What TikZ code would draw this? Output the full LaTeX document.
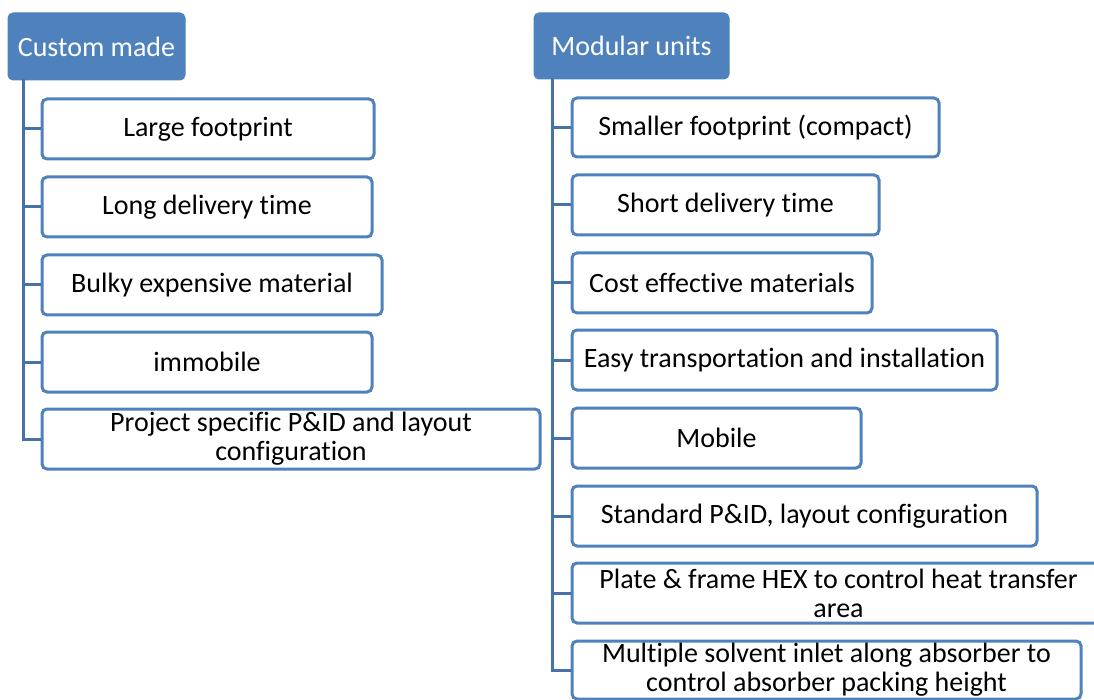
\documentclass[tikz,border=0pt]{standalone}
\usepackage{fontspec}
\setmainfont[Ligatures=NoCommon]{Carlito}
\definecolor{hdr}{HTML}{4F81BD}
\definecolor{bord}{HTML}{4F81BD}
\definecolor{conn}{HTML}{4672A8}
\begin{document}
\begin{tikzpicture}[x=1pt,y=-1pt,
  base/.style={rounded corners=5pt,inner sep=0pt,align=center,
    font=\fontsize{28}{29}\selectfont},
  header/.style={base,fill=hdr,draw=hdr,line width=1pt,text=white},
  item/.style={base,fill=white,draw=bord,line width=3pt,text=black},
  link/.style={draw=conn,line width=3pt}]
\useasboundingbox (0,0) rectangle (1094,700);
\newcommand{\mybox}[7]{%
  \node[#1,minimum width={(#5-#3)*1pt},minimum height={(#6-#4)*1pt}] (#2)
    at ({(#3+#5)/2},{(#4+#6)/2+1}) {#7};}
\mybox{header}{lh}{8}{12}{185}{79}{Custom made}
\mybox{header}{rh}{534}{12}{729}{78}{Modular units}
\mybox{item}{l1}{42}{98}{374}{158}{Large footprint}
\mybox{item}{l2}{42}{176}{372}{236}{Long delivery time}
\mybox{item}{l3}{42}{254}{382}{314}{Bulky expensive material}
\mybox{item}{l4}{42}{331}{372}{391}{immobile}
\mybox{item}{l5}{42}{408}{540}{468}{Project specific P\&ID and layout\\configuration}
\mybox{item}{r1}{572}{97}{939}{156}{Smaller footprint (compact)}
\mybox{item}{r2}{572}{174}{879}{234}{Short delivery time}
\mybox{item}{r3}{572}{252}{872}{312}{Cost effective materials}
\mybox{item}{r4}{572}{329}{997}{389}{Easy transportation and installation}
\mybox{item}{r5}{572}{407}{861}{467}{Mobile}
\mybox{item}{r6}{572}{485}{1037}{545}{Standard P\&ID, layout configuration}
\mybox{item}{r7}{572}{562}{1105}{622}{Plate \& frame HEX to control heat transfer\\area}
\mybox{item}{r8}{572}{640}{1081}{698}{Multiple solvent inlet along absorber to\\control absorber packing height}
\coordinate (lt) at (23,79);
\coordinate (rt) at (552,78);
\draw[link] (lt) |- (l5.west);
\foreach \n in {l1,l2,l3,l4} \draw[link] (lt |- \n.west) -- (\n.west);
\draw[link] (rt) |- (r8.west);
\foreach \n in {r1,r2,r3,r4,r5,r6,r7} \draw[link] (rt |- \n.west) -- (\n.west);
\end{tikzpicture}
\end{document}
